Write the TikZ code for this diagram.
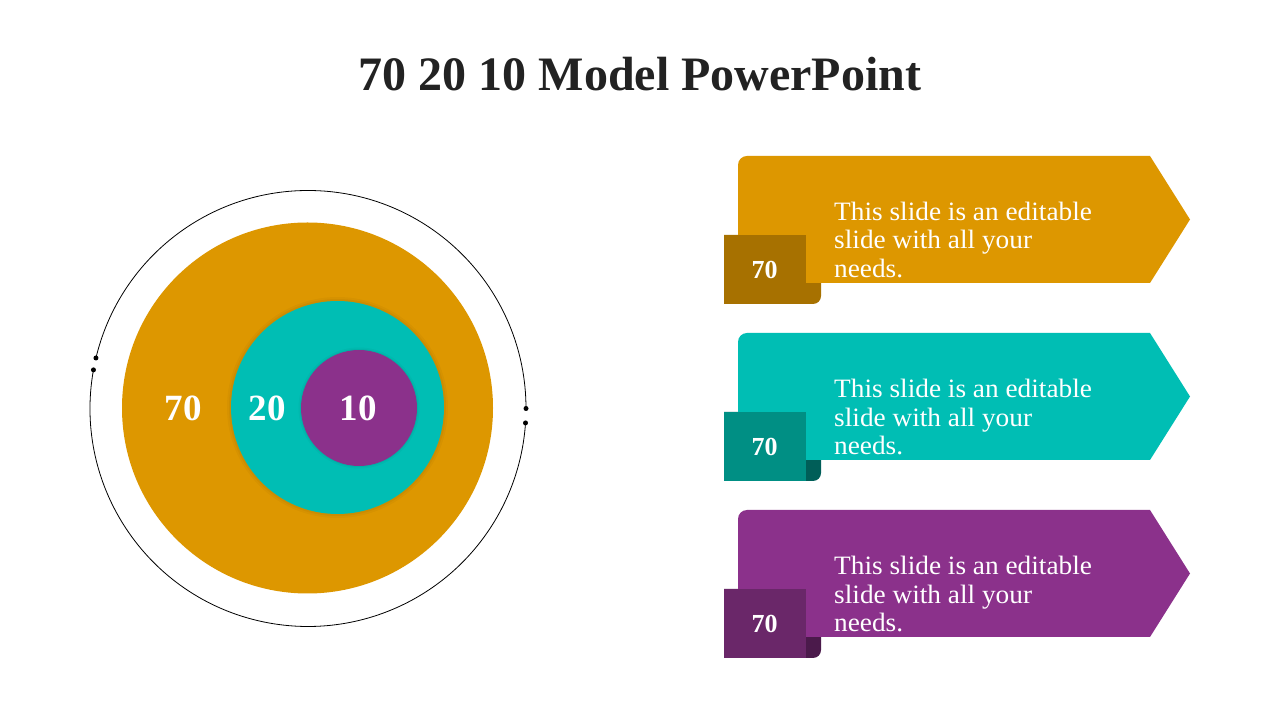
\documentclass[tikz,border=0pt]{standalone}
\usepackage{fontspec}
\usetikzlibrary{calc}
\setmainfont{Liberation Serif}
\newfontfamily\bodyfont[FakeStretch=1.03]{Liberation Serif}
\definecolor{c1}{HTML}{DD9700}
\definecolor{c2}{HTML}{00BEB4}
\definecolor{c3}{HTML}{8B318B}
\definecolor{d1}{HTML}{A77100}
\definecolor{d2}{HTML}{008F84}
\definecolor{d3}{HTML}{6A2769}
\definecolor{e1}{HTML}{A77100}
\definecolor{e2}{HTML}{005E58}
\definecolor{e3}{HTML}{4B1A4B}
\definecolor{titlegray}{HTML}{222222}
\begin{document}
\begin{tikzpicture}[x=1pt,y=1pt,
  titletext/.style={font=\fontsize{48}{50}\selectfont\bfseries, text=titlegray, inner sep=0},
  ring/.style={circle, inner sep=0, draw=none},
  bignum/.style={font=\fontsize{37}{40}\selectfont\bfseries, text=white, inner sep=0},
  boxnum/.style={font=\fontsize{26}{28}\selectfont\bfseries, text=white, inner sep=0},
  bodytext/.style={font=\bodyfont\fontsize{26.5}{28.5}\selectfont, text=white, align=left, inner sep=0, anchor=west},
  dotstyle/.style={circle, fill=black, inner sep=0, minimum size=5}
]
\useasboundingbox (0,0) rectangle (1280,720);
\fill[white] (0,0) rectangle (1280,720);

\node[titletext] (title) at (640,646) {70 20 10 Model PowerPoint};

% outer thin ring with gaps
\draw[black, line width=0.8] (308,311.5) ++(0:218) arc[start angle=0, end angle=166.6, radius=218];
\draw[black, line width=0.8] (308,311.5) ++(169.8:218) arc[start angle=169.8, end angle=356.2, radius=218];
\node[dotstyle] (dA) at ($(308,311.5)+(166.6:218)$) {};
\node[dotstyle] (dB) at ($(308,311.5)+(169.8:218)$) {};
\node[dotstyle] (dC) at ($(308,311.5)+(0:218)$) {};
\node[dotstyle] (dD) at ($(308,311.5)+(356.2:218)$) {};

% concentric discs
\node[ring, fill=c1, minimum size=371] (big) at (307.5,312) {};
\fill[black, opacity=0.03] (337.5,312.5) circle[radius=110.5];
\fill[black, opacity=0.04] (337.5,312.5) circle[radius=108.5];
\node[ring, fill=c2, minimum size=213] (mid) at (337.5,312.5) {};
\fill[black, opacity=0.03] (359,312) circle[radius=60.5];
\fill[black, opacity=0.04] (359,312) circle[radius=59];
\node[ring, fill=c3, minimum size=116] (small) at (359,312) {};

\node[bignum] (n70) at (183,312) {70};
\node[bignum] (n20) at (267,312) {20};
\node[bignum] (n10) at (358,312) {10};

% banners
\foreach \t/\c/\d/\e/\n in {564/c1/d1/e1/a, 387/c2/d2/e2/b, 210/c3/d3/e3/c}{
  \fill[\e] (724,\t-79) -- (821,\t-79) -- (821,\t-140) arc[start angle=0, end angle=-90, radius=8] -- (724,\t-148) -- cycle;
  \fill[\c] (738,\t-127) -- (738,\t-9) arc[start angle=180, end angle=90, radius=9] -- (1150,\t) -- (1190,\t-63.5) -- (1150,\t-127) -- cycle;
  \fill[\d] (724,\t-79) rectangle (806,\t-148);
  \node[boxnum] (num\n) at (764.5,\t-113.5) {70};
  \node[bodytext] (txt\n) at (834,\t-84) {This slide is an editable\\slide with all your\\needs.};
}
\end{tikzpicture}
\end{document}
